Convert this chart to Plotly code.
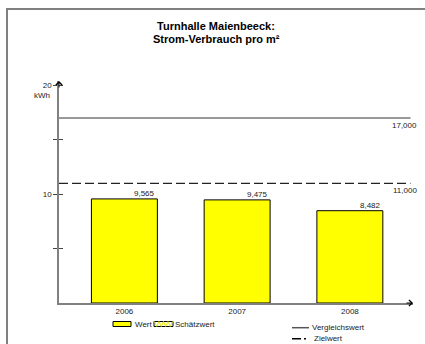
import plotly.graph_objects as go

# data
years = ["2006", "2007", "2008"]
wert = [9.565, 9.475, 8.482]
schaetzwert = [None, None, None]
vergleichswert = 17.0
zielwert = 11.0

# layout helpers (pixel geometry of the plot area)
W, H = 425, 344
left, right, top, bottom = 59, 12, 81, 41
pw = W - left - right
ph = H - top - bottom
xr = [-0.58, 2.56]
bar_w = 0.585
font = "Liberation Sans, Arial, sans-serif"
txt = "#222222"


def px_x(p):
    return (p - left) / pw


def px_y(p):
    return (H - bottom - p) / ph


def de(v):
    return f"{v:.3f}".replace(".", ",")


idx = list(range(len(years)))

fig = go.Figure()
fig.add_trace(go.Bar(x=idx, y=wert, width=bar_w, name="Wert",
                     marker=dict(color="#ffff00", line=dict(color="black", width=1)),
                     hoverinfo="skip"))
fig.add_trace(go.Bar(x=idx, y=schaetzwert, width=bar_w, name="Schätzwert",
                     marker=dict(color="white", line=dict(color="black", width=1),
                                 pattern=dict(shape="x", fgcolor="#ffff00", size=5, solidity=0.4)),
                     hoverinfo="skip"))
# invisible trace to carry the second y axis (cross ticks)
fig.add_trace(go.Scatter(x=[None], y=[None], yaxis="y2", hoverinfo="skip"))

# reference lines
fig.add_shape(type="line", xref="x domain", yref="y", x0=0, x1=0.993,
              y0=vergleichswert, y1=vergleichswert, line=dict(color="#333333", width=1))
fig.add_shape(type="line", xref="x domain", yref="y", x0=0, x1=0.993,
              y0=zielwert, y1=zielwert, line=dict(color="#222222", width=1.3, dash="9px,4px"))

# frame (top and left only)
fig.add_shape(type="line", xref="paper", yref="paper", x0=px_x(7), x1=px_x(W), y0=px_y(9), y1=px_y(9),
              line=dict(color="#808080", width=2))
fig.add_shape(type="line", xref="paper", yref="paper", x0=px_x(7), x1=px_x(7), y0=px_y(8), y1=px_y(H),
              line=dict(color="#808080", width=2))

# legend drawn by hand (swatches + labels)
sy0, sy1 = px_y(326.5), px_y(321.5)
fig.add_shape(type="rect", xref="paper", yref="paper", x0=px_x(113), x1=px_x(131), y0=sy0, y1=sy1,
              fillcolor="#ffff00", line=dict(color="black", width=1))
fig.add_shape(type="rect", xref="paper", yref="paper", x0=px_x(154), x1=px_x(173), y0=sy0, y1=sy1,
              fillcolor="white", line=dict(color="black", width=1))
zz = "M" + " L".join(f"{px_x(154.5 + k * 2.25):.5f},{(sy0 if k % 2 else sy1):.5f}" for k in range(9))
fig.add_shape(type="path", xref="paper", yref="paper", path=zz, line=dict(color="#e8e800", width=1))
fig.add_shape(type="line", xref="paper", yref="paper", x0=px_x(292), x1=px_x(309),
              y0=px_y(327.7), y1=px_y(327.7), line=dict(color="#555555", width=1.5))
fig.add_shape(type="line", xref="paper", yref="paper", x0=px_x(292), x1=px_x(306),
              y0=px_y(338.7), y1=px_y(338.7), line=dict(color="black", width=1.5, dash="9px,3px"))

ann = []
legend_txt = [("Wert", 133, 324), ("Schätzwert", 172.5, 324),
              ("Vergleichswert", 310, 327.7), ("Zielwert", 311.5, 338.9)]
for t, lx, ly in legend_txt:
    ann.append(dict(x=px_x(lx), y=px_y(ly), xref="paper", yref="paper", text=t, showarrow=False,
                    xanchor="left", yanchor="middle", font=dict(size=8, color=txt)))

for i, v in zip(idx, wert):
    ann.append(dict(x=i + bar_w / 2, y=v, xref="x", yref="y", text=de(v), showarrow=False,
                    xanchor="right", yanchor="bottom", yshift=-1, font=dict(size=8, color=txt)))
for v in (vergleichswert, zielwert):
    ann.append(dict(x=px_x(419), y=v, xref="paper", yref="y", text=de(v), showarrow=False,
                    xanchor="right", yanchor="top", yshift=-1, font=dict(size=8, color=txt)))
ann.append(dict(x=px_x(52), y=20, xref="paper", yref="y", text="kWh", showarrow=False,
                xanchor="right", yanchor="middle", yshift=-10, font=dict(size=8, color=txt)))
# second title line (tighter line spacing than plotly's <br>)
ann.append(dict(x=px_x(216), y=px_y(38.5), xref="paper", yref="paper", showarrow=False,
                text="<b>Strom-Verbrauch pro m²</b>", xanchor="center", yanchor="middle",
                font=dict(size=11, color="black")))
# axis arrows
ann.append(dict(x=0, y=1, xref="paper", yref="paper", ax=0, ay=8, axref="pixel", ayref="pixel",
                showarrow=True, arrowhead=4, arrowsize=1.2, arrowwidth=1, arrowcolor="black", text=""))
ann.append(dict(x=1, y=0, xref="paper", yref="paper", ax=-8, ay=0, axref="pixel", ayref="pixel",
                showarrow=True, arrowhead=4, arrowsize=1.2, arrowwidth=1, arrowcolor="black", text=""))

fig.update_layout(
    width=W, height=H,
    margin=dict(l=left, r=right, t=top, b=bottom, autoexpand=False),
    paper_bgcolor="white", plot_bgcolor="white",
    font=dict(family=font, size=8, color=txt),
    title=dict(text="<b>Turnhalle Maienbeeck:</b>",
               x=216 / W, xref="container", xanchor="center", y=1 - 26.5 / H, yanchor="middle",
               font=dict(size=11, color="black")),
    barmode="overlay",
    showlegend=False,
    xaxis=dict(range=xr, tickvals=idx, ticktext=years, showgrid=False, zeroline=False,
               showline=True, linecolor="#808080", linewidth=1.5, ticks="", fixedrange=True),
    yaxis=dict(range=[0, 20.4], tickvals=[5, 10, 15, 20], ticktext=["", "10", "", "20"],
               showgrid=False, zeroline=False, showline=True, linecolor="#808080", linewidth=1.5,
               ticks="outside", ticklen=4, tickcolor="#444444", tickwidth=1),
    yaxis2=dict(range=[0, 20.4], overlaying="y", side="left", tickvals=[5, 10, 15, 20],
                showticklabels=False, showgrid=False, zeroline=False, ticks="inside",
                ticklen=4, tickcolor="#444444", tickwidth=1),
    annotations=ann,
)

# drop the browser's default body margin so figure pixels map 1:1 onto the window
fig.write_html("out.html", config={"displayModeBar": False},
               post_script="document.body.style.margin='0';")
